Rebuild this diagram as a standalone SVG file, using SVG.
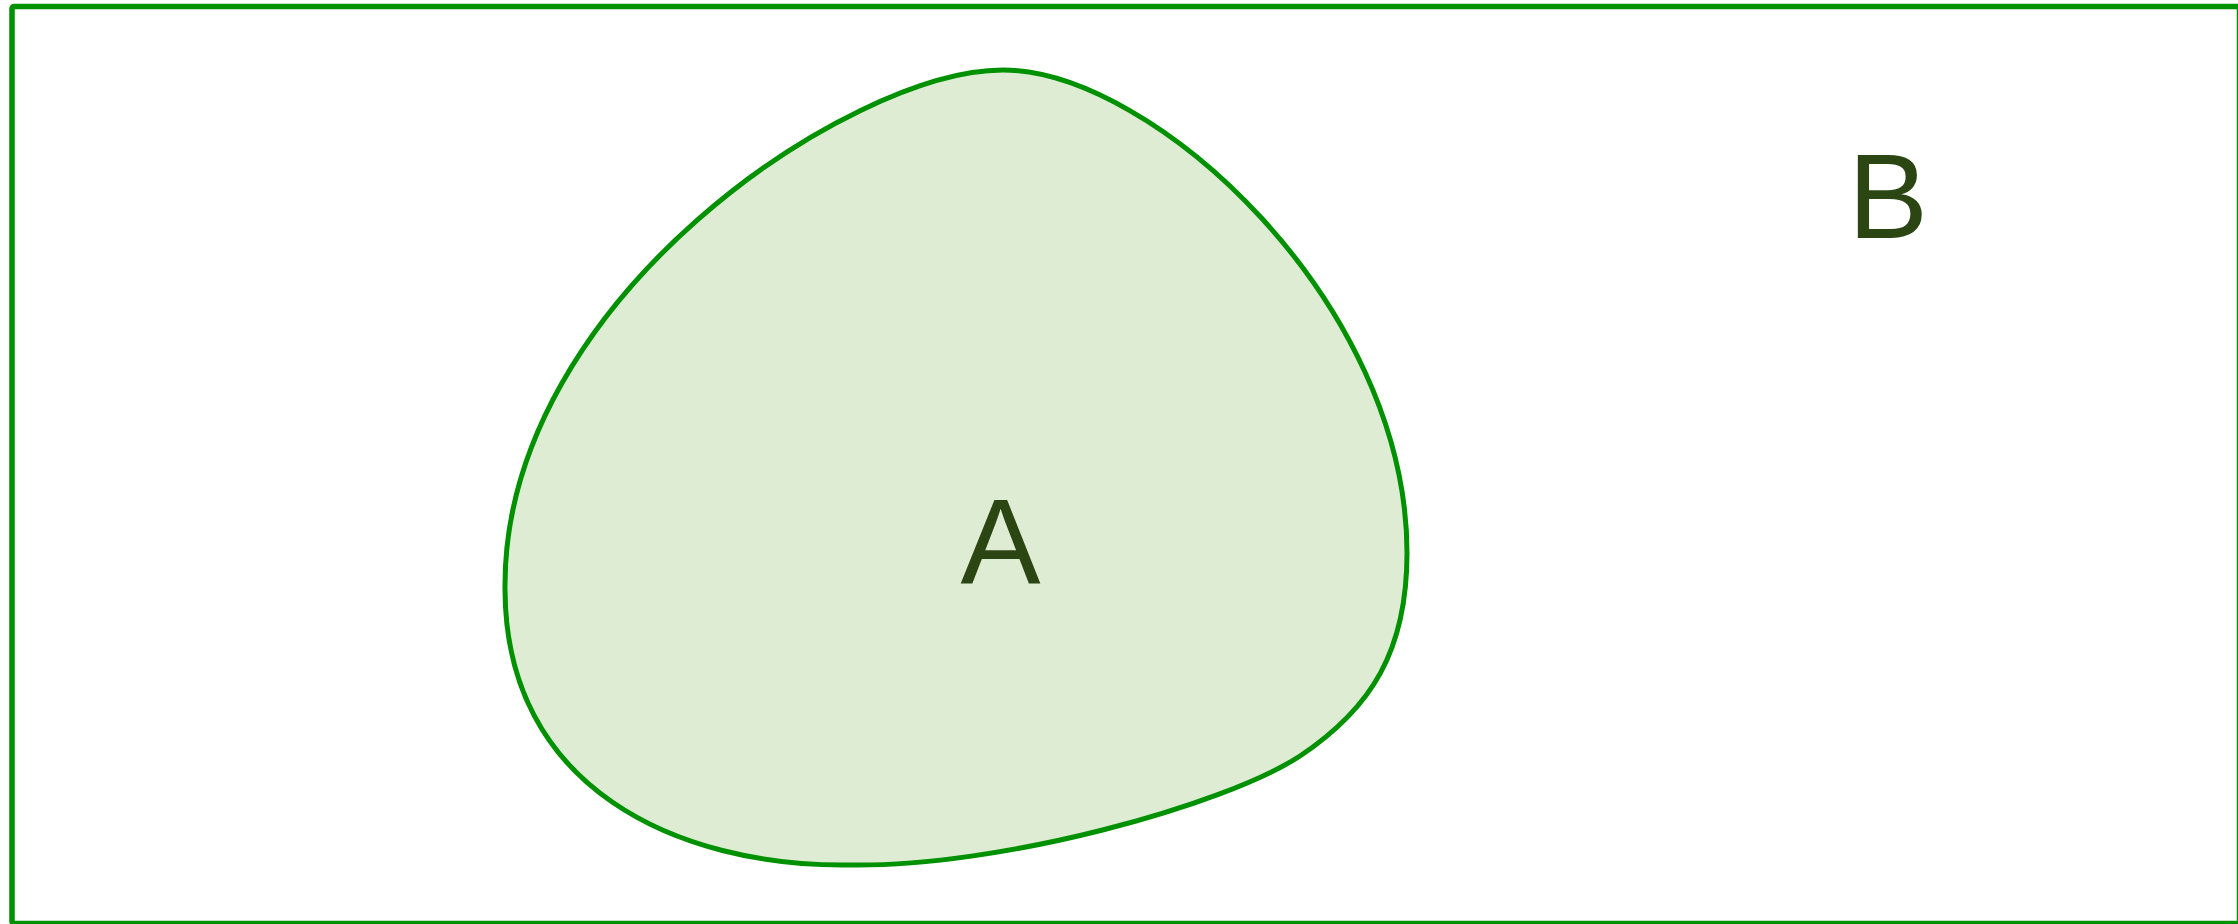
<svg xmlns="http://www.w3.org/2000/svg" width="2238" height="924" viewBox="0 0 2238 924">
  <style>
    .frame { fill: #ffffff; stroke: #009100; stroke-width: 5.5; }
    .blob { fill: #dfecd4; stroke: #009100; stroke-width: 5; stroke-linejoin: round; }
    .label { font-family: "Liberation Sans", Arial, sans-serif; font-size: 120px; fill: #2b4513; text-anchor: middle; }
  </style>
  <rect width="2238" height="924" fill="#ffffff"/>
  <g id="B">
    <rect class="frame" x="12" y="6.5" width="2227.5" height="917" rx="2"/>
    <text class="label" x="1888" y="238">B</text>
  </g>
  <g id="A">
    <path class="blob" d="M 1003 70
      C 1153 70, 1407 303, 1407 553
      C 1407 650, 1372 708, 1300 756
      C 1225 805, 1000 868, 846 865
      C 680 866, 503 790, 505 585
      C 505 300, 850 70, 1003 70 Z"/>
    <text class="label" x="1000.5" y="583">A</text>
  </g>
  <g id="connectors"/>
</svg>
